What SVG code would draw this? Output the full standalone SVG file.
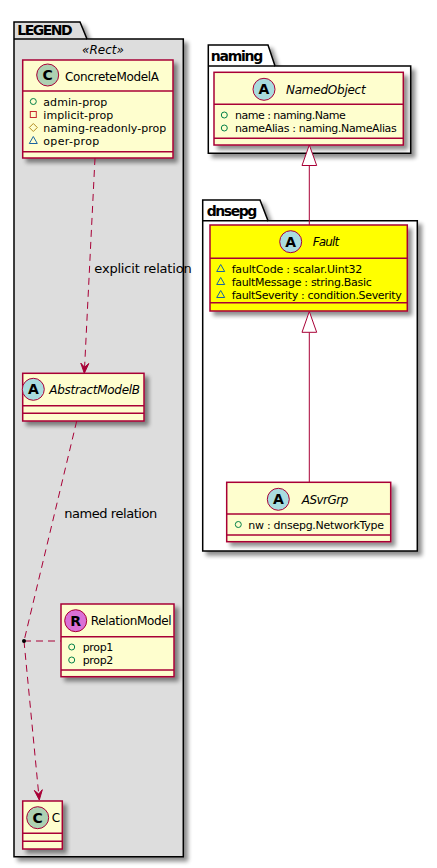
<svg xmlns="http://www.w3.org/2000/svg" width="437" height="868" viewBox="0 0 437 868">
<defs>
<filter id="sh" x="-10%" y="-10%" width="130%" height="130%">
<feGaussianBlur in="SourceAlpha" stdDeviation="2" result="b"/>
<feOffset in="b" dx="4" dy="4" result="o"/>
<feComponentTransfer in="o" result="s"><feFuncA type="linear" slope="0.45"/></feComponentTransfer>
<feMerge><feMergeNode in="s"/><feMergeNode in="SourceGraphic"/></feMerge>
</filter>
<style>
text{font-family:"DejaVu Sans","Liberation Sans",sans-serif;fill:#000}
.pkg{stroke:#000;stroke-width:1.5}
.ptxt{font-size:14px;font-weight:bold}
.box{fill:#FEFECE;stroke:#A80036;stroke-width:1.5}
.div{stroke:#A80036;stroke-width:1.5}
.name{font-size:12px}
.it{font-style:italic}
.attr{font-size:11px}
.circ{stroke:#A80036;stroke-width:1}
.ltr{font-size:14px;font-weight:bold;text-anchor:middle}
.pub{fill:none;stroke:#038048;stroke-width:1}
.pri{fill:none;stroke:#C82930;stroke-width:1}
.pro{fill:none;stroke:#B38D22;stroke-width:1}
.pkp{fill:none;stroke:#1963A0;stroke-width:1}
.lnk{fill:none;stroke:#A80036;stroke-width:1}
.dash{stroke-dasharray:7,5}
.lbl{font-size:13px}
</style>
</defs>

<g id="pkg-legend">
<path class="pkg" filter="url(#sh)" fill="#DDDDDD" d="M14,22 L80,22 L87,39 L183.3,39 L183.3,856.7 L14,856.7 Z"/>
<line class="pkg" x1="14" y1="39" x2="87" y2="39"/>
<text class="ptxt" x="17.3" y="35" textLength="55.4">LEGEND</text>
<text class="name it" x="103" y="54" text-anchor="middle">«Rect»</text>
</g>

<g id="pkg-naming">
<path class="pkg" filter="url(#sh)" fill="#FFFFFF" d="M208.3,45 L268,45 L275,66 L410.7,66 L410.7,153.3 L208.3,153.3 Z"/>
<line class="pkg" x1="208.3" y1="66" x2="275" y2="66"/>
<text class="ptxt" x="210.7" y="61" textLength="52.6">naming</text>
</g>

<g id="pkg-dnsepg">
<path class="pkg" filter="url(#sh)" fill="#FFFFFF" d="M202.7,200 L260,200 L268,220.7 L417.3,220.7 L417.3,551 L202.7,551 Z"/>
<line class="pkg" x1="202.7" y1="220.7" x2="268" y2="220.7"/>
<text class="ptxt" x="206.7" y="216" textLength="50.6">dnsepg</text>
</g>

<g id="ConcreteModelA">
<rect class="box" filter="url(#sh)" x="22.7" y="60" width="150.3" height="98"/>
<line class="div" x1="22.7" y1="91" x2="173" y2="91"/>
<line class="div" x1="22.7" y1="151.7" x2="173" y2="151.7"/>
<circle class="circ" cx="47.7" cy="75" r="11" fill="#ADD1B2"/>
<text class="ltr" x="47.7" y="80">C</text>
<text class="name" x="65" y="80.5" textLength="94">ConcreteModelA</text>
<circle class="pub" cx="33.3" cy="101.5" r="3"/>
<text class="attr" x="43.3" y="105.5" textLength="64">admin-prop</text>
<rect class="pri" x="30.3" y="111.5" width="6" height="6"/>
<text class="attr" x="43.3" y="118.5" textLength="70">implicit-prop</text>
<polygon class="pro" points="33.3,123.5 37.3,127.5 33.3,131.5 29.3,127.5"/>
<text class="attr" x="43.3" y="131.5" textLength="123">naming-readonly-prop</text>
<polygon class="pkp" points="33.3,136.5 37.3,143.5 29.3,143.5"/>
<text class="attr" x="43.3" y="144.5" textLength="56">oper-prop</text>
</g>

<g id="AbstractModelB">
<rect class="box" filter="url(#sh)" x="22.7" y="373.3" width="121.3" height="47.7"/>
<line class="div" x1="22.7" y1="405.7" x2="144" y2="405.7"/>
<line class="div" x1="22.7" y1="413.3" x2="144" y2="413.3"/>
<circle class="circ" cx="33.3" cy="389.3" r="11" fill="#A9DCDF"/>
<text class="ltr" x="33.3" y="394.3">A</text>
<text class="name it" x="49.3" y="393.8" textLength="90.7">AbstractModelB</text>
</g>

<g id="RelationModel">
<rect class="box" filter="url(#sh)" x="61" y="604" width="113" height="72.7"/>
<line class="div" x1="61" y1="636.7" x2="174" y2="636.7"/>
<line class="div" x1="61" y1="670" x2="174" y2="670"/>
<circle class="circ" cx="75.7" cy="620.7" r="11" fill="#DA70D6"/>
<text class="ltr" x="75.7" y="625.7">R</text>
<text class="name" x="90.7" y="625.2" textLength="81">RelationModel</text>
<circle class="pub" cx="71.7" cy="647" r="3"/>
<text class="attr" x="82.7" y="651" textLength="30.6">prop1</text>
<circle class="pub" cx="71.7" cy="660" r="3"/>
<text class="attr" x="82.7" y="664" textLength="30.6">prop2</text>
</g>

<g id="C">
<rect class="box" filter="url(#sh)" x="22.7" y="801" width="39.6" height="48"/>
<line class="div" x1="22.7" y1="833.3" x2="62.3" y2="833.3"/>
<line class="div" x1="22.7" y1="841.3" x2="62.3" y2="841.3"/>
<circle class="circ" cx="37.7" cy="817.7" r="11" fill="#ADD1B2"/>
<text class="ltr" x="37.7" y="822.7">C</text>
<text class="name" x="51.7" y="822">C</text>
</g>

<g id="NamedObject">
<rect class="box" filter="url(#sh)" x="214" y="72.3" width="189.3" height="72.7"/>
<line class="div" x1="214" y1="104.3" x2="403.3" y2="104.3"/>
<line class="div" x1="214" y1="138.3" x2="403.3" y2="138.3"/>
<circle class="circ" cx="264" cy="89.3" r="11" fill="#A9DCDF"/>
<text class="ltr" x="264" y="94.3">A</text>
<text class="name it" x="286" y="93.6" textLength="79.7">NamedObject</text>
<circle class="pub" cx="224.3" cy="115" r="3"/>
<text class="attr" x="235" y="119" textLength="110.7">name : naming.Name</text>
<circle class="pub" cx="224.3" cy="128" r="3"/>
<text class="attr" x="235" y="132" textLength="161.7">nameAlias : naming.NameAlias</text>
</g>

<g id="Fault">
<rect filter="url(#sh)" x="210" y="225" width="197.3" height="86" fill="#FFFF00" stroke="#A80036" stroke-width="1.5"/>
<line class="div" x1="210" y1="258.3" x2="407.3" y2="258.3"/>
<line class="div" x1="210" y1="302.7" x2="407.3" y2="302.7"/>
<circle class="circ" cx="290.7" cy="241.7" r="11" fill="#A9DCDF"/>
<text class="ltr" x="290.7" y="246.7">A</text>
<text class="name it" x="312.7" y="246" textLength="26.6">Fault</text>
<polygon class="pkp" points="220.7,264.5 224.7,271.5 216.7,271.5"/>
<text class="attr" x="231.7" y="272.5" textLength="130.6">faultCode : scalar.Uint32</text>
<polygon class="pkp" points="220.7,277.5 224.7,284.5 216.7,284.5"/>
<text class="attr" x="231.7" y="285.5" textLength="140">faultMessage : string.Basic</text>
<polygon class="pkp" points="220.7,290.5 224.7,297.5 216.7,297.5"/>
<text class="attr" x="231.7" y="298.5" textLength="170">faultSeverity : condition.Severity</text>
</g>

<g id="ASvrGrp">
<rect class="box" filter="url(#sh)" x="226.7" y="482.3" width="164" height="59.4"/>
<line class="div" x1="226.7" y1="514" x2="390.7" y2="514"/>
<line class="div" x1="226.7" y1="535" x2="390.7" y2="535"/>
<circle class="circ" cx="278.3" cy="499.3" r="11" fill="#A9DCDF"/>
<text class="ltr" x="278.3" y="504.3">A</text>
<text class="name it" x="301.7" y="503.6" textLength="46.6">ASvrGrp</text>
<circle class="pub" cx="238.3" cy="524.5" r="3"/>
<text class="attr" x="248.3" y="528.5" textLength="135.7">nw : dnsepg.NetworkType</text>
</g>

<g id="connectors">
<line class="lnk dash" x1="95" y1="158" x2="84.6" y2="367"/>
<polygon fill="#A80036" stroke="#A80036" stroke-width="1" points="84.3,373.3 88.8,363.5 84.6,367.3 80.8,363.1"/>
<text class="lbl" x="94.3" y="273" textLength="97.4">explicit relation</text>

<line class="lnk dash" x1="76.7" y1="421" x2="24" y2="641"/>
<line class="lnk dash" x1="24" y1="641" x2="38.7" y2="794"/>
<polygon fill="#A80036" stroke="#A80036" stroke-width="1" points="39.3,800 42.3,789.7 38.7,794 34.3,790.4"/>
<text class="lbl" x="64.3" y="517.5" textLength="93">named relation</text>
<line class="lnk dash" x1="24" y1="641" x2="61" y2="641"/>
<circle cx="24" cy="641" r="2" fill="#000"/>

<line class="lnk" x1="309.3" y1="165.5" x2="309.3" y2="225"/>
<polygon fill="#FFFFFF" stroke="#A80036" stroke-width="1" points="309.3,145 316.7,165.5 302,165.5"/>
<line class="lnk" x1="309.3" y1="332.3" x2="309.3" y2="482.3"/>
<polygon fill="#FFFFFF" stroke="#A80036" stroke-width="1" points="309.3,311.5 316.7,332.3 302,332.3"/>
</g>
</svg>
